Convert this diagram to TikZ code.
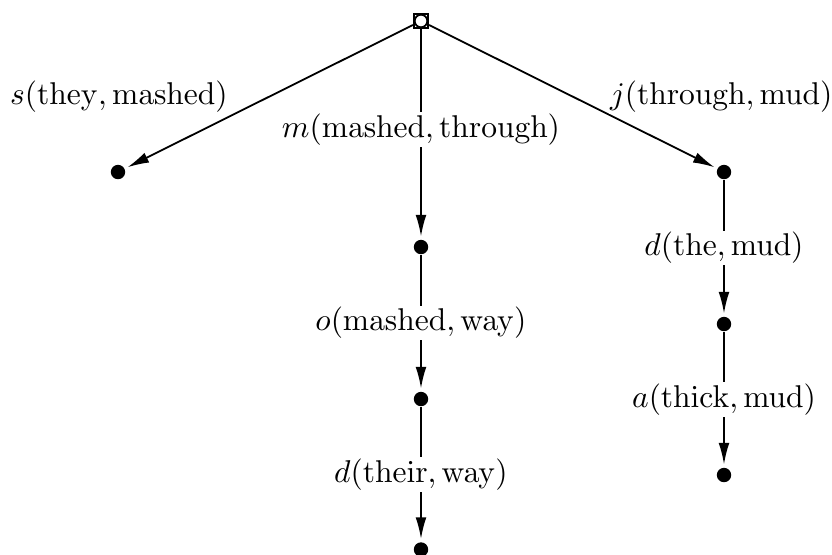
\documentclass[tikz,border=0pt]{standalone}
\usetikzlibrary{arrows.meta}
\begin{document}
\begin{tikzpicture}[x=0.3333pt,y=-0.3333pt,line width=0.6pt,
    dot/.style={circle,fill,inner sep=0pt,minimum size=4.8pt},
    lab/.style={fill=white,inner sep=0.5pt,scale=1.05},
    >={Latex[length=7.2pt,width=3.6pt]}]
    \useasboundingbox (0,0) rectangle (832,554);
    \node[draw,inner sep=0pt,minimum size=4.8pt] (mashed) at (421,21) {};
    \draw[fill=white] (mashed.center) circle [radius=2.1pt];
    \node[dot] (they) at (118,172) {};
    \node[dot] (through) at (421,247) {};
    \node[dot] (way) at (421,399) {};
    \node[dot] (their) at (421,549.5) {};
    \node[dot] (mud) at (724,172) {};
    \node[dot] (the) at (724,324) {};
    \node[dot] (thick) at (724,475) {};
    \draw[->,shorten >=0.8pt] (mashed) -- node[scale=1.05,left=9.5pt] {$s(\mathrm{they},\mathrm{mashed})$} (they);
    \draw[->,shorten >=0.8pt] (mashed) -- node[lab,pos=0.48] {$m(\mathrm{mashed},\mathrm{through})$} (through);
    \draw[->,shorten >=0.8pt] (mashed) -- node[lab,right=11pt] {$j(\mathrm{through},\mathrm{mud})$} (mud);
    \draw[->,shorten >=0.8pt] (through) -- node[lab] {$o(\mathrm{mashed},\mathrm{way})$} (way);
    \draw[->,shorten >=0.8pt] (way) -- node[lab] {$d(\mathrm{their},\mathrm{way})$} (their);
    \draw[->,shorten >=0.8pt] (mud) -- node[lab] {$d(\mathrm{the},\mathrm{mud})$} (the);
    \draw[->,shorten >=0.8pt] (the) -- node[lab] {$a(\mathrm{thick},\mathrm{mud})$} (thick);
\end{tikzpicture}
\end{document}
